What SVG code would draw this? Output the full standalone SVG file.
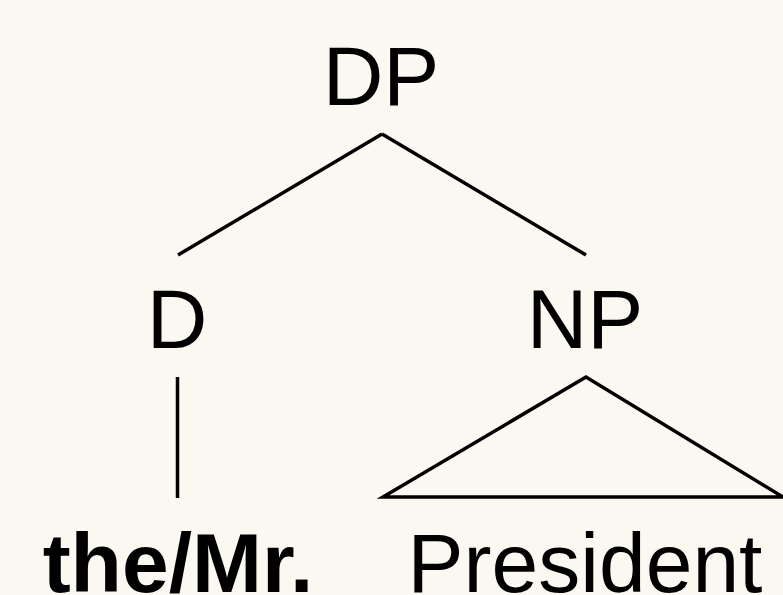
<svg xmlns="http://www.w3.org/2000/svg" width="783" height="595" viewBox="0 0 783 595">
<style>
.t{font-family:"Liberation Sans",Arial,sans-serif;font-size:84px;fill:#000;text-anchor:middle}
.b{font-weight:bold}
.e{stroke:#000;stroke-width:3.5;fill:none;stroke-linecap:butt;stroke-linejoin:miter}
</style>
<rect width="783" height="595" fill="#FBF8F1"/>
<g id="connectors">
<line class="e" x1="382" y1="134" x2="178" y2="255"/>
<line class="e" x1="382" y1="134" x2="586" y2="255"/>
<line class="e" x1="177.5" y1="377" x2="177.5" y2="498"/>
<polygon class="e" points="586,377 383,497 783,497"/>
</g>
<g id="DP"><text class="t" x="381" y="105">DP</text></g>
<g id="D"><text class="t" x="177" y="348">D</text></g>
<g id="NP"><text class="t" x="585" y="348">NP</text></g>
<g id="the-mr"><text class="t b" x="178" y="592">the/Mr.</text></g>
<g id="president"><text class="t" x="585" y="592">President</text></g>
</svg>
